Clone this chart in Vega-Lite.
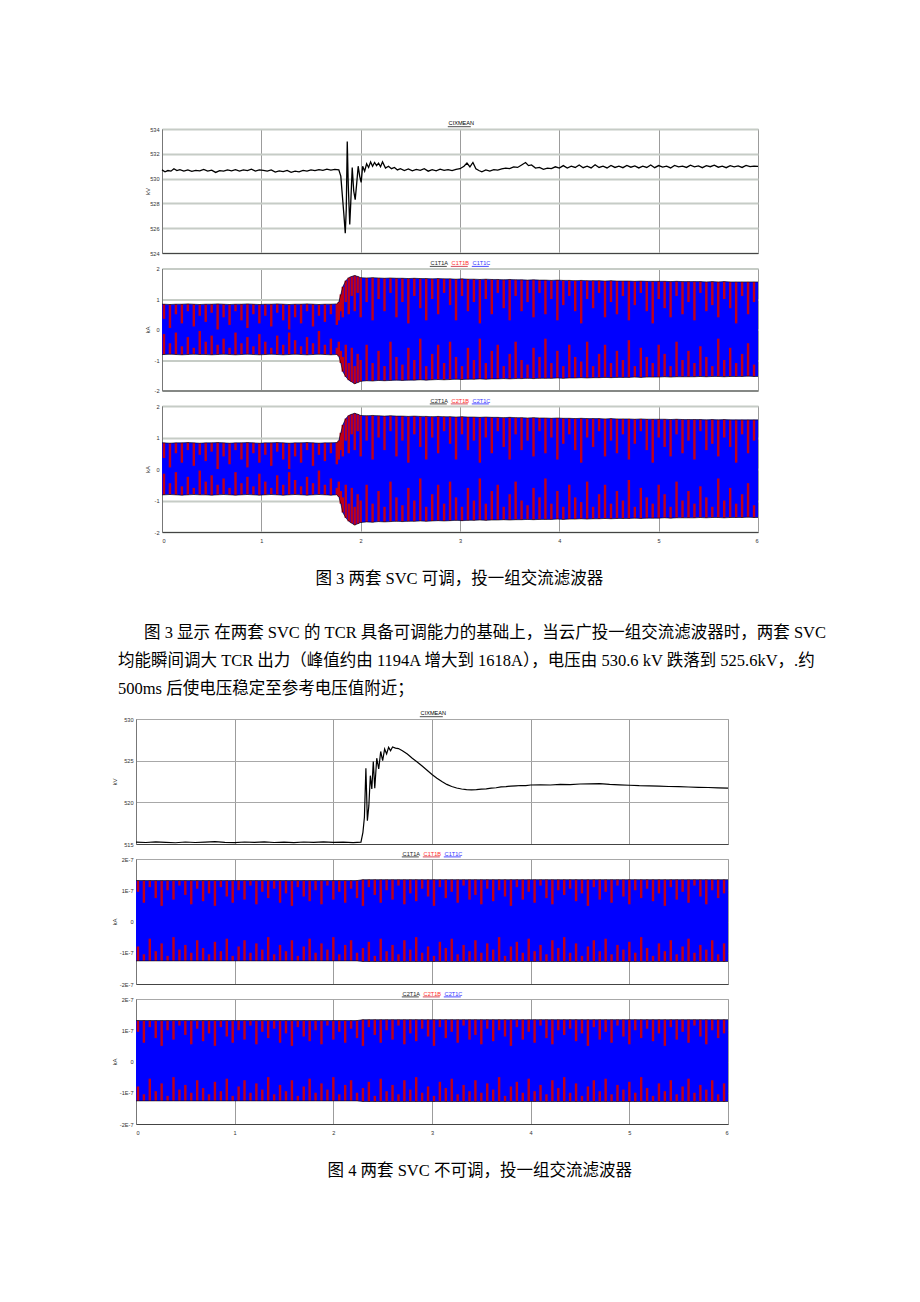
{
"$schema":"https://vega.github.io/schema/vega-lite/v6.json",
"background":"white",
"padding":{"left":103,"top":120,"right":10,"bottom":10},
"config":{
 "font":"Liberation Sans",
 "view":{"stroke":"#b4b4b4","strokeWidth":1},
 "axis":{"labelFont":"Liberation Sans","labelFontSize":5.6,"labelColor":"#333333","ticks":false,"titleFont":"Liberation Sans","titleFontSize":6,"titleFontWeight":"normal","titleColor":"#333333","domainColor":"#555555","labelPadding":3},
 "legend":{"labelFont":"Liberation Sans","labelFontSize":5.6,"symbolSize":4,"labelOffset":-3,"columnPadding":0,"padding":0,"direction":"horizontal","symbolStrokeWidth":0.7,"symbolFillColor":"transparent"},
 "title":{"font":"Liberation Serif, Noto Sans CJK SC","fontSize":16.5,"fontWeight":"normal","color":"#000000"}
},
"datasets":{
"v3":[{"t":0,"v":530.7},{"t":0.03,"v":530.55},{"t":0.06,"v":530.65},{"t":0.09,"v":530.6},{"t":0.12,"v":530.8},{"t":0.15,"v":530.65},{"t":0.18,"v":530.72},{"t":0.22,"v":530.6},{"t":0.26,"v":530.7},{"t":0.3,"v":530.58},{"t":0.34,"v":530.66},{"t":0.38,"v":530.62},{"t":0.42,"v":530.74},{"t":0.46,"v":530.6},{"t":0.5,"v":530.68},{"t":0.54,"v":530.5},{"t":0.58,"v":530.64},{"t":0.62,"v":530.6},{"t":0.66,"v":530.7},{"t":0.7,"v":530.62},{"t":0.74,"v":530.72},{"t":0.78,"v":530.6},{"t":0.82,"v":530.7},{"t":0.86,"v":530.64},{"t":0.9,"v":530.76},{"t":0.94,"v":530.6},{"t":0.98,"v":530.7},{"t":1.02,"v":530.66},{"t":1.06,"v":530.6},{"t":1.1,"v":530.7},{"t":1.14,"v":530.52},{"t":1.18,"v":530.62},{"t":1.22,"v":530.56},{"t":1.26,"v":530.66},{"t":1.3,"v":530.5},{"t":1.34,"v":530.6},{"t":1.38,"v":530.55},{"t":1.42,"v":530.66},{"t":1.46,"v":530.6},{"t":1.5,"v":530.7},{"t":1.54,"v":530.64},{"t":1.58,"v":530.72},{"t":1.62,"v":530.66},{"t":1.66,"v":530.76},{"t":1.7,"v":530.68},{"t":1.74,"v":530.74},{"t":1.78,"v":530.7},{"t":1.8,"v":530.2},{"t":1.815,"v":528.7},{"t":1.83,"v":527.2},{"t":1.845,"v":525.6},{"t":1.855,"v":527.5},{"t":1.865,"v":533.0},{"t":1.875,"v":529.5},{"t":1.89,"v":526.3},{"t":1.9,"v":528.0},{"t":1.915,"v":530.9},{"t":1.93,"v":529.0},{"t":1.945,"v":528.3},{"t":1.96,"v":529.6},{"t":1.975,"v":531.0},{"t":1.99,"v":530.2},{"t":2.005,"v":529.7},{"t":2.02,"v":531.0},{"t":2.04,"v":530.6},{"t":2.06,"v":531.2},{"t":2.08,"v":530.9},{"t":2.1,"v":531.35},{"t":2.12,"v":531.0},{"t":2.14,"v":531.3},{"t":2.16,"v":531.05},{"t":2.18,"v":531.25},{"t":2.2,"v":530.95},{"t":2.22,"v":531.35},{"t":2.25,"v":530.85},{"t":2.28,"v":531.0},{"t":2.31,"v":530.8},{"t":2.34,"v":530.9},{"t":2.37,"v":530.7},{"t":2.4,"v":530.8},{"t":2.44,"v":530.65},{"t":2.48,"v":530.78},{"t":2.52,"v":530.62},{"t":2.56,"v":530.74},{"t":2.6,"v":530.66},{"t":2.64,"v":530.8},{"t":2.68,"v":530.6},{"t":2.72,"v":530.72},{"t":2.76,"v":530.62},{"t":2.8,"v":530.76},{"t":2.84,"v":530.66},{"t":2.88,"v":530.72},{"t":2.92,"v":530.64},{"t":2.96,"v":530.75},{"t":3.0,"v":530.8},{"t":3.04,"v":531.0},{"t":3.07,"v":531.25},{"t":3.1,"v":530.95},{"t":3.13,"v":531.3},{"t":3.16,"v":530.8},{"t":3.19,"v":530.65},{"t":3.22,"v":530.55},{"t":3.26,"v":530.7},{"t":3.3,"v":530.6},{"t":3.34,"v":530.72},{"t":3.38,"v":530.68},{"t":3.42,"v":530.78},{"t":3.46,"v":530.85},{"t":3.5,"v":530.8},{"t":3.54,"v":530.95},{"t":3.58,"v":530.9},{"t":3.62,"v":531.1},{"t":3.66,"v":531.3},{"t":3.69,"v":531.05},{"t":3.72,"v":531.1},{"t":3.76,"v":530.85},{"t":3.8,"v":530.9},{"t":3.84,"v":530.75},{"t":3.88,"v":530.85},{"t":3.92,"v":530.8},{"t":3.96,"v":530.95},{"t":4.0,"v":530.85},{"t":4.04,"v":531.05},{"t":4.08,"v":530.85},{"t":4.12,"v":531.0},{"t":4.16,"v":530.9},{"t":4.2,"v":531.1},{"t":4.24,"v":530.88},{"t":4.28,"v":531.0},{"t":4.32,"v":530.86},{"t":4.36,"v":531.12},{"t":4.4,"v":530.9},{"t":4.44,"v":531.0},{"t":4.48,"v":530.86},{"t":4.52,"v":531.06},{"t":4.56,"v":530.9},{"t":4.6,"v":531.0},{"t":4.64,"v":530.88},{"t":4.68,"v":531.06},{"t":4.72,"v":530.92},{"t":4.76,"v":531.02},{"t":4.8,"v":530.86},{"t":4.84,"v":531.0},{"t":4.88,"v":530.9},{"t":4.92,"v":531.1},{"t":4.96,"v":530.88},{"t":5.0,"v":531.05},{"t":5.04,"v":530.92},{"t":5.08,"v":531.0},{"t":5.12,"v":530.86},{"t":5.16,"v":531.06},{"t":5.2,"v":530.94},{"t":5.24,"v":531.0},{"t":5.28,"v":530.9},{"t":5.32,"v":531.08},{"t":5.36,"v":530.95},{"t":5.4,"v":531.02},{"t":5.44,"v":530.88},{"t":5.48,"v":531.04},{"t":5.52,"v":530.96},{"t":5.56,"v":531.08},{"t":5.6,"v":530.92},{"t":5.64,"v":531.0},{"t":5.68,"v":530.88},{"t":5.72,"v":531.05},{"t":5.76,"v":530.95},{"t":5.8,"v":531.02},{"t":5.84,"v":530.9},{"t":5.88,"v":531.06},{"t":5.92,"v":530.96},{"t":5.96,"v":531.0},{"t":6.0,"v":530.98}],
"i3":[{"t":0,"hi":0.83,"lo":-0.82,"a":0.83,"b":-0.82},{"t":0.02,"hi":0.83,"lo":-0.82,"a":0.35,"b":-0.15},{"t":0.08,"hi":0.82,"lo":-0.81,"a":0.05,"b":-0.45},{"t":0.14,"hi":0.83,"lo":-0.82,"a":0.5,"b":-0.1},{"t":0.2,"hi":0.83,"lo":-0.83,"a":0.2,"b":-0.55},{"t":0.26,"hi":0.84,"lo":-0.82,"a":0.6,"b":-0.25},{"t":0.32,"hi":0.83,"lo":-0.81,"a":0.1,"b":-0.6},{"t":0.38,"hi":0.82,"lo":-0.82,"a":0.45,"b":-0.05},{"t":0.44,"hi":0.83,"lo":-0.82,"a":0.25,"b":-0.4},{"t":0.5,"hi":0.83,"lo":-0.83,"a":0.55,"b":-0.2},{"t":0.56,"hi":0.84,"lo":-0.82,"a":0.0,"b":-0.5},{"t":0.62,"hi":0.83,"lo":-0.81,"a":0.4,"b":-0.3},{"t":0.68,"hi":0.82,"lo":-0.82,"a":0.15,"b":-0.6},{"t":0.74,"hi":0.83,"lo":-0.83,"a":0.6,"b":-0.1},{"t":0.8,"hi":0.83,"lo":-0.82,"a":0.3,"b":-0.45},{"t":0.86,"hi":0.84,"lo":-0.81,"a":0.05,"b":-0.25},{"t":0.92,"hi":0.83,"lo":-0.82,"a":0.5,"b":-0.55},{"t":0.98,"hi":0.82,"lo":-0.83,"a":0.2,"b":-0.15},{"t":1.04,"hi":0.83,"lo":-0.82,"a":0.45,"b":-0.4},{"t":1.1,"hi":0.83,"lo":-0.81,"a":0.1,"b":-0.6},{"t":1.16,"hi":0.84,"lo":-0.82,"a":0.55,"b":-0.2},{"t":1.22,"hi":0.83,"lo":-0.83,"a":0.3,"b":-0.5},{"t":1.28,"hi":0.82,"lo":-0.82,"a":0.0,"b":-0.1},{"t":1.34,"hi":0.83,"lo":-0.81,"a":0.4,"b":-0.35},{"t":1.4,"hi":0.83,"lo":-0.82,"a":0.2,"b":-0.55},{"t":1.46,"hi":0.84,"lo":-0.83,"a":0.6,"b":-0.25},{"t":1.52,"hi":0.83,"lo":-0.82,"a":0.1,"b":-0.45},{"t":1.58,"hi":0.82,"lo":-0.81,"a":0.45,"b":-0.05},{"t":1.64,"hi":0.83,"lo":-0.82,"a":0.25,"b":-0.5},{"t":1.7,"hi":0.83,"lo":-0.83,"a":0.5,"b":-0.3},{"t":1.76,"hi":0.84,"lo":-0.82,"a":0.15,"b":-0.6},{"t":1.78,"hi":0.9,"lo":-0.88,"a":0.3,"b":-0.4},{"t":1.8,"hi":1.15,"lo":-1.1,"a":0.6,"b":-0.7},{"t":1.82,"hi":1.4,"lo":-1.38,"a":0.4,"b":-0.9},{"t":1.85,"hi":1.6,"lo":-1.55,"a":0.9,"b":-0.5},{"t":1.88,"hi":1.7,"lo":-1.66,"a":0.5,"b":-1.1},{"t":1.91,"hi":1.74,"lo":-1.72,"a":1.1,"b":-0.6},{"t":1.94,"hi":1.77,"lo":-1.78,"a":0.6,"b":-1.2},{"t":1.97,"hi":1.74,"lo":-1.74,"a":1.2,"b":-0.8},{"t":2.0,"hi":1.7,"lo":-1.7,"a":0.4,"b":-1.0},{"t":2.06,"hi":1.69,"lo":-1.68,"a":0.9,"b":-0.5},{"t":2.12,"hi":1.7,"lo":-1.69,"a":0.3,"b":-1.1},{"t":2.18,"hi":1.69,"lo":-1.67,"a":1.0,"b":-0.7},{"t":2.24,"hi":1.68,"lo":-1.68,"a":0.6,"b":-1.2},{"t":2.3,"hi":1.69,"lo":-1.67,"a":1.2,"b":-0.4},{"t":2.36,"hi":1.68,"lo":-1.66,"a":0.4,"b":-0.9},{"t":2.42,"hi":1.68,"lo":-1.67,"a":0.9,"b":-1.15},{"t":2.48,"hi":1.67,"lo":-1.66,"a":0.2,"b":-0.6},{"t":2.54,"hi":1.68,"lo":-1.66,"a":1.1,"b":-1.0},{"t":2.6,"hi":1.67,"lo":-1.65,"a":0.7,"b":-0.3},{"t":2.66,"hi":1.67,"lo":-1.66,"a":0.3,"b":-1.2},{"t":2.72,"hi":1.66,"lo":-1.65,"a":1.0,"b":-0.8},{"t":2.78,"hi":1.67,"lo":-1.64,"a":0.5,"b":-0.5},{"t":2.84,"hi":1.66,"lo":-1.65,"a":1.2,"b":-1.1},{"t":2.9,"hi":1.66,"lo":-1.64,"a":0.8,"b":-0.4},{"t":2.96,"hi":1.65,"lo":-1.63,"a":0.3,"b":-0.9},{"t":3.02,"hi":1.66,"lo":-1.64,"a":1.1,"b":-1.2},{"t":3.08,"hi":1.65,"lo":-1.63,"a":0.6,"b":-0.6},{"t":3.14,"hi":1.65,"lo":-1.63,"a":0.9,"b":-1.0},{"t":3.2,"hi":1.64,"lo":-1.62,"a":0.2,"b":-0.3},{"t":3.26,"hi":1.65,"lo":-1.63,"a":1.0,"b":-1.1},{"t":3.32,"hi":1.64,"lo":-1.62,"a":0.5,"b":-0.7},{"t":3.38,"hi":1.64,"lo":-1.62,"a":1.2,"b":-0.5},{"t":3.44,"hi":1.63,"lo":-1.61,"a":0.7,"b":-1.2},{"t":3.5,"hi":1.64,"lo":-1.62,"a":0.3,"b":-0.8},{"t":3.56,"hi":1.63,"lo":-1.61,"a":1.1,"b":-0.4},{"t":3.62,"hi":1.63,"lo":-1.61,"a":0.6,"b":-1.0},{"t":3.68,"hi":1.62,"lo":-1.6,"a":0.9,"b":-1.15},{"t":3.74,"hi":1.63,"lo":-1.61,"a":0.4,"b":-0.6},{"t":3.8,"hi":1.62,"lo":-1.6,"a":1.2,"b":-0.9},{"t":3.86,"hi":1.62,"lo":-1.6,"a":0.5,"b":-0.3},{"t":3.92,"hi":1.61,"lo":-1.6,"a":1.0,"b":-1.1},{"t":3.98,"hi":1.62,"lo":-1.59,"a":0.3,"b":-0.7},{"t":4.04,"hi":1.61,"lo":-1.6,"a":0.8,"b":-1.2},{"t":4.1,"hi":1.61,"lo":-1.59,"a":1.1,"b":-0.5},{"t":4.16,"hi":1.6,"lo":-1.59,"a":0.6,"b":-0.9},{"t":4.22,"hi":1.61,"lo":-1.58,"a":0.2,"b":-1.05},{"t":4.28,"hi":1.6,"lo":-1.59,"a":1.0,"b":-0.4},{"t":4.34,"hi":1.6,"lo":-1.58,"a":0.7,"b":-1.2},{"t":4.4,"hi":1.6,"lo":-1.58,"a":1.2,"b":-0.8},{"t":4.46,"hi":1.59,"lo":-1.57,"a":0.4,"b":-0.5},{"t":4.52,"hi":1.6,"lo":-1.58,"a":0.9,"b":-1.1},{"t":4.58,"hi":1.59,"lo":-1.57,"a":0.5,"b":-0.7},{"t":4.64,"hi":1.59,"lo":-1.57,"a":1.1,"b":-1.0},{"t":4.7,"hi":1.59,"lo":-1.57,"a":0.3,"b":-0.35},{"t":4.76,"hi":1.58,"lo":-1.56,"a":0.8,"b":-1.2},{"t":4.82,"hi":1.59,"lo":-1.57,"a":1.2,"b":-0.6},{"t":4.88,"hi":1.58,"lo":-1.56,"a":0.6,"b":-0.9},{"t":4.94,"hi":1.58,"lo":-1.56,"a":0.2,"b":-1.1},{"t":5.0,"hi":1.58,"lo":-1.56,"a":1.0,"b":-0.5},{"t":5.06,"hi":1.58,"lo":-1.55,"a":0.7,"b":-0.8},{"t":5.12,"hi":1.57,"lo":-1.56,"a":0.4,"b":-1.2},{"t":5.18,"hi":1.58,"lo":-1.55,"a":1.1,"b":-0.4},{"t":5.24,"hi":1.57,"lo":-1.55,"a":0.5,"b":-1.0},{"t":5.3,"hi":1.57,"lo":-1.55,"a":0.9,"b":-0.7},{"t":5.36,"hi":1.57,"lo":-1.55,"a":0.3,"b":-1.1},{"t":5.42,"hi":1.57,"lo":-1.54,"a":1.2,"b":-0.55},{"t":5.48,"hi":1.56,"lo":-1.55,"a":0.6,"b":-0.9},{"t":5.54,"hi":1.57,"lo":-1.54,"a":0.8,"b":-1.2},{"t":5.6,"hi":1.56,"lo":-1.54,"a":0.4,"b":-0.3},{"t":5.66,"hi":1.57,"lo":-1.55,"a":1.0,"b":-1.0},{"t":5.72,"hi":1.56,"lo":-1.54,"a":0.7,"b":-0.6},{"t":5.78,"hi":1.56,"lo":-1.54,"a":0.2,"b":-1.1},{"t":5.84,"hi":1.56,"lo":-1.54,"a":1.1,"b":-0.8},{"t":5.9,"hi":1.56,"lo":-1.53,"a":0.5,"b":-0.45},{"t":5.96,"hi":1.56,"lo":-1.54,"a":0.9,"b":-1.15},{"t":6.0,"hi":1.56,"lo":-1.54,"a":1.56,"b":-1.54}],
"v4":[{"t":0,"v":515.22},{"t":0.1,"v":515.18},{"t":0.2,"v":515.26},{"t":0.3,"v":515.2},{"t":0.4,"v":515.15},{"t":0.5,"v":515.24},{"t":0.6,"v":515.18},{"t":0.7,"v":515.22},{"t":0.8,"v":515.28},{"t":0.9,"v":515.2},{"t":1.0,"v":515.16},{"t":1.1,"v":515.24},{"t":1.2,"v":515.2},{"t":1.3,"v":515.26},{"t":1.4,"v":515.18},{"t":1.5,"v":515.22},{"t":1.6,"v":515.16},{"t":1.7,"v":515.24},{"t":1.8,"v":515.2},{"t":1.9,"v":515.26},{"t":2.0,"v":515.19},{"t":2.1,"v":515.23},{"t":2.2,"v":515.17},{"t":2.28,"v":515.22},{"t":2.3,"v":516.4},{"t":2.315,"v":518.2},{"t":2.33,"v":524.1},{"t":2.345,"v":517.8},{"t":2.36,"v":519.6},{"t":2.375,"v":523.2},{"t":2.39,"v":521.6},{"t":2.405,"v":524.9},{"t":2.42,"v":521.7},{"t":2.44,"v":525.3},{"t":2.46,"v":524.0},{"t":2.48,"v":526.1},{"t":2.5,"v":525.0},{"t":2.52,"v":526.4},{"t":2.54,"v":525.8},{"t":2.56,"v":526.6},{"t":2.58,"v":526.2},{"t":2.6,"v":526.65},{"t":2.63,"v":526.5},{"t":2.66,"v":526.45},{"t":2.7,"v":526.2},{"t":2.75,"v":525.8},{"t":2.8,"v":525.3},{"t":2.85,"v":524.85},{"t":2.9,"v":524.35},{"t":2.95,"v":523.85},{"t":3.0,"v":523.35},{"t":3.05,"v":522.9},{"t":3.1,"v":522.5},{"t":3.15,"v":522.15},{"t":3.2,"v":521.9},{"t":3.25,"v":521.72},{"t":3.3,"v":521.6},{"t":3.35,"v":521.52},{"t":3.4,"v":521.5},{"t":3.45,"v":521.52},{"t":3.5,"v":521.58},{"t":3.55,"v":521.62},{"t":3.6,"v":521.7},{"t":3.65,"v":521.75},{"t":3.7,"v":521.85},{"t":3.75,"v":521.88},{"t":3.8,"v":521.95},{"t":3.85,"v":521.98},{"t":3.9,"v":522.02},{"t":3.95,"v":522.0},{"t":4.0,"v":522.08},{"t":4.1,"v":522.1},{"t":4.2,"v":522.08},{"t":4.3,"v":522.15},{"t":4.4,"v":522.12},{"t":4.5,"v":522.2},{"t":4.6,"v":522.22},{"t":4.7,"v":522.25},{"t":4.8,"v":522.15},{"t":4.9,"v":522.1},{"t":5.0,"v":522.05},{"t":5.1,"v":522.0},{"t":5.2,"v":521.98},{"t":5.3,"v":521.95},{"t":5.4,"v":521.9},{"t":5.5,"v":521.88},{"t":5.6,"v":521.84},{"t":5.7,"v":521.8},{"t":5.8,"v":521.78},{"t":5.9,"v":521.74},{"t":6.0,"v":521.7}],
"i4":[{"t":0,"hi":1.31e-7,"lo":-1.26e-7,"a":1.31e-7,"b":-1.26e-7},{"t":0.02,"hi":1.31e-7,"lo":-1.26e-7,"a":9.5e-8,"b":-8e-8},{"t":0.08,"hi":1.31e-7,"lo":-1.26e-7,"a":6e-8,"b":-1.05e-7},{"t":0.14,"hi":1.31e-7,"lo":-1.26e-7,"a":1.1e-7,"b":-5.5e-8},{"t":0.2,"hi":1.31e-7,"lo":-1.26e-7,"a":7.5e-8,"b":-9.5e-8},{"t":0.26,"hi":1.31e-7,"lo":-1.26e-7,"a":5e-8,"b":-7e-8},{"t":0.32,"hi":1.31e-7,"lo":-1.26e-7,"a":1e-7,"b":-1.1e-7},{"t":0.38,"hi":1.31e-7,"lo":-1.26e-7,"a":7e-8,"b":-5e-8},{"t":0.44,"hi":1.31e-7,"lo":-1.26e-7,"a":1.15e-7,"b":-9e-8},{"t":0.5,"hi":1.31e-7,"lo":-1.26e-7,"a":8.5e-8,"b":-7.5e-8},{"t":0.56,"hi":1.31e-7,"lo":-1.26e-7,"a":5.5e-8,"b":-1e-7},{"t":0.62,"hi":1.31e-7,"lo":-1.26e-7,"a":1.05e-7,"b":-6e-8},{"t":0.68,"hi":1.31e-7,"lo":-1.26e-7,"a":6.5e-8,"b":-8.5e-8},{"t":0.74,"hi":1.31e-7,"lo":-1.26e-7,"a":9e-8,"b":-1.05e-7},{"t":0.8,"hi":1.31e-7,"lo":-1.26e-7,"a":5e-8,"b":-6.5e-8},{"t":0.86,"hi":1.31e-7,"lo":-1.26e-7,"a":1.1e-7,"b":-9.5e-8},{"t":0.92,"hi":1.31e-7,"lo":-1.26e-7,"a":8e-8,"b":-5.5e-8},{"t":0.98,"hi":1.31e-7,"lo":-1.26e-7,"a":6e-8,"b":-1.1e-7},{"t":1.04,"hi":1.31e-7,"lo":-1.26e-7,"a":1e-7,"b":-8e-8},{"t":1.1,"hi":1.31e-7,"lo":-1.26e-7,"a":7e-8,"b":-6e-8},{"t":1.16,"hi":1.31e-7,"lo":-1.26e-7,"a":1.15e-7,"b":-1e-7},{"t":1.22,"hi":1.31e-7,"lo":-1.26e-7,"a":5.5e-8,"b":-7e-8},{"t":1.28,"hi":1.31e-7,"lo":-1.26e-7,"a":9.5e-8,"b":-9e-8},{"t":1.34,"hi":1.31e-7,"lo":-1.26e-7,"a":7.5e-8,"b":-5e-8},{"t":1.4,"hi":1.31e-7,"lo":-1.26e-7,"a":1.05e-7,"b":-1.05e-7},{"t":1.46,"hi":1.31e-7,"lo":-1.26e-7,"a":6e-8,"b":-7.5e-8},{"t":1.52,"hi":1.31e-7,"lo":-1.26e-7,"a":9e-8,"b":-9.5e-8},{"t":1.58,"hi":1.31e-7,"lo":-1.26e-7,"a":5e-8,"b":-6e-8},{"t":1.64,"hi":1.31e-7,"lo":-1.26e-7,"a":1.1e-7,"b":-1.1e-7},{"t":1.7,"hi":1.31e-7,"lo":-1.26e-7,"a":8e-8,"b":-8e-8},{"t":1.76,"hi":1.31e-7,"lo":-1.26e-7,"a":6.5e-8,"b":-5.5e-8},{"t":1.82,"hi":1.31e-7,"lo":-1.26e-7,"a":1e-7,"b":-1e-7},{"t":1.88,"hi":1.31e-7,"lo":-1.26e-7,"a":5.5e-8,"b":-7e-8},{"t":1.94,"hi":1.31e-7,"lo":-1.26e-7,"a":1.15e-7,"b":-9e-8},{"t":2.0,"hi":1.31e-7,"lo":-1.26e-7,"a":7e-8,"b":-5e-8},{"t":2.06,"hi":1.31e-7,"lo":-1.26e-7,"a":9.5e-8,"b":-1.05e-7},{"t":2.12,"hi":1.31e-7,"lo":-1.26e-7,"a":6e-8,"b":-7.5e-8},{"t":2.18,"hi":1.31e-7,"lo":-1.26e-7,"a":1.05e-7,"b":-6e-8},{"t":2.24,"hi":1.31e-7,"lo":-1.26e-7,"a":7.5e-8,"b":-1e-7},{"t":2.3,"hi":1.34e-7,"lo":-1.28e-7,"a":5e-8,"b":-8.5e-8},{"t":2.36,"hi":1.34e-7,"lo":-1.28e-7,"a":1.1e-7,"b":-6.5e-8},{"t":2.42,"hi":1.34e-7,"lo":-1.28e-7,"a":8.5e-8,"b":-1.1e-7},{"t":2.48,"hi":1.34e-7,"lo":-1.28e-7,"a":6e-8,"b":-5.5e-8},{"t":2.54,"hi":1.34e-7,"lo":-1.28e-7,"a":1e-7,"b":-9.5e-8},{"t":2.6,"hi":1.34e-7,"lo":-1.28e-7,"a":7e-8,"b":-7.5e-8},{"t":2.66,"hi":1.34e-7,"lo":-1.28e-7,"a":1.15e-7,"b":-1.05e-7},{"t":2.72,"hi":1.34e-7,"lo":-1.28e-7,"a":5.5e-8,"b":-6e-8},{"t":2.78,"hi":1.34e-7,"lo":-1.28e-7,"a":9e-8,"b":-9e-8},{"t":2.84,"hi":1.34e-7,"lo":-1.28e-7,"a":6.5e-8,"b":-5e-8},{"t":2.9,"hi":1.34e-7,"lo":-1.28e-7,"a":1.05e-7,"b":-1e-7},{"t":2.96,"hi":1.34e-7,"lo":-1.28e-7,"a":8e-8,"b":-8e-8},{"t":3.02,"hi":1.34e-7,"lo":-1.28e-7,"a":5e-8,"b":-1.1e-7},{"t":3.08,"hi":1.34e-7,"lo":-1.28e-7,"a":1.1e-7,"b":-6.5e-8},{"t":3.14,"hi":1.34e-7,"lo":-1.28e-7,"a":7.5e-8,"b":-8.5e-8},{"t":3.2,"hi":1.34e-7,"lo":-1.28e-7,"a":9.5e-8,"b":-5.5e-8},{"t":3.26,"hi":1.34e-7,"lo":-1.28e-7,"a":6e-8,"b":-1.05e-7},{"t":3.32,"hi":1.34e-7,"lo":-1.28e-7,"a":1.15e-7,"b":-7.5e-8},{"t":3.38,"hi":1.34e-7,"lo":-1.28e-7,"a":7e-8,"b":-9.5e-8},{"t":3.44,"hi":1.34e-7,"lo":-1.28e-7,"a":8.5e-8,"b":-6e-8},{"t":3.5,"hi":1.34e-7,"lo":-1.28e-7,"a":5.5e-8,"b":-1e-7},{"t":3.56,"hi":1.34e-7,"lo":-1.28e-7,"a":1.05e-7,"b":-7e-8},{"t":3.62,"hi":1.34e-7,"lo":-1.28e-7,"a":6.5e-8,"b":-9e-8},{"t":3.68,"hi":1.34e-7,"lo":-1.28e-7,"a":1e-7,"b":-5e-8},{"t":3.74,"hi":1.34e-7,"lo":-1.28e-7,"a":8e-8,"b":-1.1e-7},{"t":3.8,"hi":1.34e-7,"lo":-1.28e-7,"a":5e-8,"b":-8e-8},{"t":3.86,"hi":1.34e-7,"lo":-1.28e-7,"a":1.1e-7,"b":-6.5e-8},{"t":3.92,"hi":1.34e-7,"lo":-1.28e-7,"a":7e-8,"b":-1e-7},{"t":3.98,"hi":1.34e-7,"lo":-1.28e-7,"a":9.5e-8,"b":-5.5e-8},{"t":4.04,"hi":1.34e-7,"lo":-1.28e-7,"a":6e-8,"b":-9.5e-8},{"t":4.1,"hi":1.34e-7,"lo":-1.28e-7,"a":1.15e-7,"b":-7.5e-8},{"t":4.16,"hi":1.34e-7,"lo":-1.28e-7,"a":7.5e-8,"b":-1.05e-7},{"t":4.22,"hi":1.34e-7,"lo":-1.28e-7,"a":5.5e-8,"b":-6e-8},{"t":4.28,"hi":1.34e-7,"lo":-1.28e-7,"a":1e-7,"b":-8.5e-8},{"t":4.34,"hi":1.34e-7,"lo":-1.28e-7,"a":8.5e-8,"b":-5e-8},{"t":4.4,"hi":1.34e-7,"lo":-1.28e-7,"a":1.05e-7,"b":-1e-7},{"t":4.46,"hi":1.34e-7,"lo":-1.28e-7,"a":6.5e-8,"b":-7e-8},{"t":4.52,"hi":1.34e-7,"lo":-1.28e-7,"a":9e-8,"b":-1.1e-7},{"t":4.58,"hi":1.34e-7,"lo":-1.28e-7,"a":5e-8,"b":-8e-8},{"t":4.64,"hi":1.34e-7,"lo":-1.28e-7,"a":1.1e-7,"b":-6e-8},{"t":4.7,"hi":1.34e-7,"lo":-1.28e-7,"a":7e-8,"b":-9.5e-8},{"t":4.76,"hi":1.34e-7,"lo":-1.28e-7,"a":9.5e-8,"b":-5.5e-8},{"t":4.82,"hi":1.34e-7,"lo":-1.28e-7,"a":6e-8,"b":-1.05e-7},{"t":4.88,"hi":1.34e-7,"lo":-1.28e-7,"a":1.15e-7,"b":-7.5e-8},{"t":4.94,"hi":1.34e-7,"lo":-1.28e-7,"a":8e-8,"b":-9e-8},{"t":5.0,"hi":1.34e-7,"lo":-1.28e-7,"a":5.5e-8,"b":-6.5e-8},{"t":5.06,"hi":1.34e-7,"lo":-1.28e-7,"a":1e-7,"b":-1e-7},{"t":5.12,"hi":1.34e-7,"lo":-1.28e-7,"a":7.5e-8,"b":-5e-8},{"t":5.18,"hi":1.34e-7,"lo":-1.28e-7,"a":1.05e-7,"b":-8.5e-8},{"t":5.24,"hi":1.34e-7,"lo":-1.28e-7,"a":6.5e-8,"b":-1.1e-7},{"t":5.3,"hi":1.34e-7,"lo":-1.28e-7,"a":9e-8,"b":-7e-8},{"t":5.36,"hi":1.34e-7,"lo":-1.28e-7,"a":5e-8,"b":-9.5e-8},{"t":5.42,"hi":1.34e-7,"lo":-1.28e-7,"a":1.1e-7,"b":-6e-8},{"t":5.48,"hi":1.34e-7,"lo":-1.28e-7,"a":7e-8,"b":-1.05e-7},{"t":5.54,"hi":1.34e-7,"lo":-1.28e-7,"a":9.5e-8,"b":-8e-8},{"t":5.6,"hi":1.34e-7,"lo":-1.28e-7,"a":6e-8,"b":-5.5e-8},{"t":5.66,"hi":1.34e-7,"lo":-1.28e-7,"a":1.15e-7,"b":-1e-7},{"t":5.72,"hi":1.34e-7,"lo":-1.28e-7,"a":8e-8,"b":-7.5e-8},{"t":5.78,"hi":1.34e-7,"lo":-1.28e-7,"a":5.5e-8,"b":-9e-8},{"t":5.84,"hi":1.34e-7,"lo":-1.28e-7,"a":1e-7,"b":-6e-8},{"t":5.9,"hi":1.34e-7,"lo":-1.28e-7,"a":7.5e-8,"b":-1.05e-7},{"t":5.96,"hi":1.34e-7,"lo":-1.28e-7,"a":9e-8,"b":-7e-8},{"t":6.0,"hi":1.34e-7,"lo":-1.28e-7,"a":1.34e-7,"b":-1.28e-7}]
},
"spacing":0,
"resolve":{"scale":{"x":"independent","y":"independent","color":"independent"},"legend":{"color":"independent"}},
"vconcat":[
 {"spacing":0,
  "resolve":{"scale":{"x":"independent","y":"independent","color":"independent"},"legend":{"color":"independent"}},
  "hconcat":[
  {"width":37,"height":1,"data":{"values":[{"t":0}]},"mark":{"type":"point","opacity":0},"encoding":{},"view":{"stroke":null}},
  {"spacing":1.5,
   "title":{"text":"图 3  两套 SVC 可调，投一组交流滤波器","orient":"bottom","anchor":"middle","offset":26,"dx":7},
   "resolve":{"scale":{"x":"independent","y":"independent","color":"independent"},"legend":{"color":"independent"}},
   "vconcat":[
    {"width":596,"height":124,"data":{"name":"v3"},
     "mark":{"type":"line","strokeWidth":1.3},
     "encoding":{
      "x":{"field":"t","type":"quantitative","scale":{"domain":[0,6],"nice":false},"axis":{"values":[0,1,2,3,4,5,6],"grid":true,"labels":false,"title":null,"gridColor":"#9c9c9c","gridWidth":1,"domainColor":"#444444"}},
      "y":{"field":"v","type":"quantitative","scale":{"domain":[524,534],"nice":false,"zero":false},"axis":{"values":[524,526,528,530,532,534],"title":"kV","titlePadding":0,"minExtent":12,"maxExtent":12,"gridColor":"#c6ccc6","gridWidth":2,"domainColor":"#777777"}},
      "color":{"datum":"CIXMEAN","scale":{"domain":["CIXMEAN"],"range":["#000000"]},
        "legend":{"orient":"none","legendX":284,"legendY":-8.5,"title":null,"symbolType":"M-1,3.4H22","labelColor":"#000000","symbolStrokeColor":"#000000"}}
     }},
    {"width":596,"height":122,"data":{"name":"i3"},
     "encoding":{"x":{"field":"t","type":"quantitative","scale":{"domain":[0,6],"nice":false},"axis":{"values":[0,1,2,3,4,5,6],"grid":true,"labels":false,"title":null,"gridColor":"#9c9c9c","gridWidth":1,"domainColor":"#444444"}}},
     "layer":[
      {"mark":{"type":"area"},"encoding":{
        "y":{"field":"hi","type":"quantitative","scale":{"domain":[-2,2],"nice":false},"axis":{"values":[-2,-1,0,1,2],"title":"kA","labelExpr":"'' + datum.value","titlePadding":0,"minExtent":12,"maxExtent":12,"gridColor":"#c6ccc6","gridWidth":2,"domainColor":"#777777"}},
        "y2":{"field":"lo"},
        "color":{"datum":"C1T1C","scale":{"domain":["C1T1A","C1T1B","C1T1C"],"range":["#000000","#c00018","#0000ff"]},
          "legend":{"orient":"none","legendX":266,"legendY":-8.5,"title":null,"symbolType":"M-1,3.4H16","labelColor":{"expr":"slice(datum.value,-1)=='B'?'#ff2b2b':slice(datum.value,-1)=='C'?'#3333ff':'#222222'"}}}}},
      {"mark":{"type":"rule","strokeWidth":2.4},"encoding":{"y":{"field":"hi","type":"quantitative","axis":{"values":[-2,-1,0,1,2],"title":"kA","labelExpr":"'' + datum.value","titlePadding":0,"minExtent":12,"maxExtent":12,"gridColor":"#c6ccc6","gridWidth":2,"domainColor":"#777777"}},"y2":{"field":"a"},"color":{"datum":"C1T1B"}}},
      {"mark":{"type":"rule","strokeWidth":2.4},"encoding":{"y":{"field":"lo","type":"quantitative","axis":{"values":[-2,-1,0,1,2],"title":"kA","labelExpr":"'' + datum.value","titlePadding":0,"minExtent":12,"maxExtent":12,"gridColor":"#c6ccc6","gridWidth":2,"domainColor":"#777777"}},"y2":{"field":"b"},"color":{"datum":"C1T1B"}}},
      {"mark":{"type":"line","strokeWidth":0.6},"encoding":{"y":{"field":"hi","type":"quantitative","axis":{"values":[-2,-1,0,1,2],"title":"kA","labelExpr":"'' + datum.value","titlePadding":0,"minExtent":12,"maxExtent":12,"gridColor":"#c6ccc6","gridWidth":2,"domainColor":"#777777"}},"color":{"datum":"C1T1A"}}},
      {"mark":{"type":"line","strokeWidth":0.6},"encoding":{"y":{"field":"lo","type":"quantitative","axis":{"values":[-2,-1,0,1,2],"title":"kA","labelExpr":"'' + datum.value","titlePadding":0,"minExtent":12,"maxExtent":12,"gridColor":"#c6ccc6","gridWidth":2,"domainColor":"#777777"}},"color":{"datum":"C1T1A"}}}
     ]},
    {"width":596,"height":126,"data":{"name":"i3"},
     "encoding":{"x":{"field":"t","type":"quantitative","scale":{"domain":[0,6],"nice":false},"axis":{"values":[0,1,2,3,4,5,6],"grid":true,"labels":true,"labelPadding":6.5,"title":null,"gridColor":"#9c9c9c","gridWidth":1,"domainColor":"#444444"}}},
     "layer":[
      {"mark":{"type":"area"},"encoding":{
        "y":{"field":"hi","type":"quantitative","scale":{"domain":[-2,2],"nice":false},"axis":{"values":[-2,-1,0,1,2],"title":"kA","labelExpr":"'' + datum.value","titlePadding":0,"minExtent":12,"maxExtent":12,"gridColor":"#c6ccc6","gridWidth":2,"domainColor":"#777777"}},
        "y2":{"field":"lo"},
        "color":{"datum":"C2T1C","scale":{"domain":["C2T1A","C2T1B","C2T1C"],"range":["#000000","#c00018","#0000ff"]},
          "legend":{"orient":"none","legendX":266,"legendY":-8.5,"title":null,"symbolType":"M-1,3.4H16","labelColor":{"expr":"slice(datum.value,-1)=='B'?'#ff2b2b':slice(datum.value,-1)=='C'?'#3333ff':'#222222'"}}}}},
      {"mark":{"type":"rule","strokeWidth":2.4},"encoding":{"y":{"field":"hi","type":"quantitative","axis":{"values":[-2,-1,0,1,2],"title":"kA","labelExpr":"'' + datum.value","titlePadding":0,"minExtent":12,"maxExtent":12,"gridColor":"#c6ccc6","gridWidth":2,"domainColor":"#777777"}},"y2":{"field":"a"},"color":{"datum":"C2T1B"}}},
      {"mark":{"type":"rule","strokeWidth":2.4},"encoding":{"y":{"field":"lo","type":"quantitative","axis":{"values":[-2,-1,0,1,2],"title":"kA","labelExpr":"'' + datum.value","titlePadding":0,"minExtent":12,"maxExtent":12,"gridColor":"#c6ccc6","gridWidth":2,"domainColor":"#777777"}},"y2":{"field":"b"},"color":{"datum":"C2T1B"}}},
      {"mark":{"type":"line","strokeWidth":0.6},"encoding":{"y":{"field":"hi","type":"quantitative","axis":{"values":[-2,-1,0,1,2],"title":"kA","labelExpr":"'' + datum.value","titlePadding":0,"minExtent":12,"maxExtent":12,"gridColor":"#c6ccc6","gridWidth":2,"domainColor":"#777777"}},"color":{"datum":"C2T1A"}}},
      {"mark":{"type":"line","strokeWidth":0.6},"encoding":{"y":{"field":"lo","type":"quantitative","axis":{"values":[-2,-1,0,1,2],"title":"kA","labelExpr":"'' + datum.value","titlePadding":0,"minExtent":12,"maxExtent":12,"gridColor":"#c6ccc6","gridWidth":2,"domainColor":"#777777"}},"color":{"datum":"C2T1A"}}}
     ]}
   ]}
 ]},
 {"width":720,"height":121.5,
  "data":{"values":[
   {"line":1,"text":"图 3 显示 在两套 SVC 的 TCR 具备可调能力的基础上，当云广投一组交流滤波器时，两套 SVC"},
   {"line":2,"text":"均能瞬间调大 TCR 出力（峰值约由 1194A 增大到 1618A），电压由 530.6 kV 跌落到 525.6kV，.约"},
   {"line":3,"text":"500ms 后使电压稳定至参考电压值附近；"}]},
  "encoding":{
   "x":{"datum":0,"type":"quantitative","scale":{"domain":[0,1]},"axis":null},
   "y":{"field":"line","type":"quantitative","scale":{"domain":[-0.6175,3.7215],"reverse":true,"nice":false,"zero":false},"axis":null},
   "text":{"field":"text"}},
  "layer":[
   {"transform":[{"filter":"datum.line == 1"}],
    "mark":{"type":"text","align":"left","baseline":"middle","dx":38,"font":"Liberation Serif, Noto Sans CJK SC","fontSize":16.5,"color":"#000000"}},
   {"transform":[{"filter":"datum.line > 1"}],
    "mark":{"type":"text","align":"left","baseline":"middle","dx":12,"font":"Liberation Serif, Noto Sans CJK SC","fontSize":16.5,"color":"#000000"}}
  ],
  "view":{"stroke":null}},
 {"spacing":0,
  "resolve":{"scale":{"x":"independent","y":"independent","color":"independent"},"legend":{"color":"independent"}},
  "hconcat":[
  {"width":1,"height":1,"data":{"values":[{"t":0}]},"mark":{"type":"point","opacity":0},"encoding":{},"view":{"stroke":null}},
  {"spacing":1,
   "title":{"text":"图 4 两套 SVC 不可调，投一组交流滤波器","orient":"bottom","anchor":"middle","offset":26,"dx":59},
   "resolve":{"scale":{"x":"independent","y":"independent","color":"independent"},"legend":{"color":"independent"}},
   "vconcat":[
    {"width":592,"height":125,"data":{"name":"v4"},
     "mark":{"type":"line","strokeWidth":1.2},
     "encoding":{
      "x":{"field":"t","type":"quantitative","scale":{"domain":[0,6],"nice":false},"axis":{"values":[0,1,2,3,4,5,6],"grid":true,"labels":false,"title":null,"gridColor":"#9c9c9c","gridWidth":1,"domainColor":"#444444"}},
      "y":{"field":"v","type":"quantitative","scale":{"domain":[515,530],"nice":false,"zero":false},"axis":{"values":[515,520,525,530],"title":"kV","titlePadding":0,"minExtent":19,"maxExtent":19,"gridColor":"#a8a8a8","gridWidth":1,"domainColor":"#777777"}},
      "color":{"datum":"CIXMEAN","scale":{"domain":["CIXMEAN"],"range":["#000000"]},
        "legend":{"orient":"none","legendX":282,"legendY":-8.5,"title":null,"symbolType":"M-1,3.4H22","labelColor":"#000000","symbolStrokeColor":"#000000"}}
     }},
    {"width":592,"height":125,"data":{"name":"i4"},
     "encoding":{"x":{"field":"t","type":"quantitative","scale":{"domain":[0,6],"nice":false},"axis":{"values":[0,1,2,3,4,5,6],"grid":true,"labels":false,"title":null,"gridColor":"#9c9c9c","gridWidth":1,"domainColor":"#444444"}}},
     "layer":[
      {"mark":{"type":"area"},"encoding":{
        "y":{"field":"hi","type":"quantitative","scale":{"domain":[-2e-7,2e-7],"nice":false},"axis":{"values":[-2e-7,-1e-7,0,1e-7,2e-7],"title":"kA","labelExpr":"datum.value == 0 ? '0' : round(datum.value*1e7) + 'E-7'","titlePadding":0,"minExtent":19,"maxExtent":19,"gridColor":"#a8a8a8","gridWidth":1,"domainColor":"#777777"}},
        "y2":{"field":"lo"},
        "color":{"datum":"C1T1C","scale":{"domain":["C1T1A","C1T1B","C1T1C"],"range":["#000000","#c00018","#0000ff"]},
          "legend":{"orient":"none","legendX":264,"legendY":-8.5,"title":null,"symbolType":"M-1,3.4H16","labelColor":{"expr":"slice(datum.value,-1)=='B'?'#ff2b2b':slice(datum.value,-1)=='C'?'#3333ff':'#222222'"}}}}},
      {"mark":{"type":"rule","strokeWidth":2.4},"encoding":{"y":{"field":"hi","type":"quantitative","axis":{"values":[-2e-7,-1e-7,0,1e-7,2e-7],"title":"kA","labelExpr":"datum.value == 0 ? '0' : round(datum.value*1e7) + 'E-7'","titlePadding":0,"minExtent":19,"maxExtent":19,"gridColor":"#a8a8a8","gridWidth":1,"domainColor":"#777777"}},"y2":{"field":"a"},"color":{"datum":"C1T1B"}}},
      {"mark":{"type":"rule","strokeWidth":2.4},"encoding":{"y":{"field":"lo","type":"quantitative","axis":{"values":[-2e-7,-1e-7,0,1e-7,2e-7],"title":"kA","labelExpr":"datum.value == 0 ? '0' : round(datum.value*1e7) + 'E-7'","titlePadding":0,"minExtent":19,"maxExtent":19,"gridColor":"#a8a8a8","gridWidth":1,"domainColor":"#777777"}},"y2":{"field":"b"},"color":{"datum":"C1T1B"}}},
      {"mark":{"type":"line","strokeWidth":0.6},"encoding":{"y":{"field":"hi","type":"quantitative","axis":{"values":[-2e-7,-1e-7,0,1e-7,2e-7],"title":"kA","labelExpr":"datum.value == 0 ? '0' : round(datum.value*1e7) + 'E-7'","titlePadding":0,"minExtent":19,"maxExtent":19,"gridColor":"#a8a8a8","gridWidth":1,"domainColor":"#777777"}},"color":{"datum":"C1T1A"}}},
      {"mark":{"type":"line","strokeWidth":0.6},"encoding":{"y":{"field":"lo","type":"quantitative","axis":{"values":[-2e-7,-1e-7,0,1e-7,2e-7],"title":"kA","labelExpr":"datum.value == 0 ? '0' : round(datum.value*1e7) + 'E-7'","titlePadding":0,"minExtent":19,"maxExtent":19,"gridColor":"#a8a8a8","gridWidth":1,"domainColor":"#777777"}},"color":{"datum":"C1T1A"}}}
     ]},
    {"width":592,"height":125,"data":{"name":"i4"},
     "encoding":{"x":{"field":"t","type":"quantitative","scale":{"domain":[0,6],"nice":false},"axis":{"values":[0,1,2,3,4,5,6],"grid":true,"labels":true,"labelPadding":6.5,"title":null,"gridColor":"#9c9c9c","gridWidth":1,"domainColor":"#444444"}}},
     "layer":[
      {"mark":{"type":"area"},"encoding":{
        "y":{"field":"hi","type":"quantitative","scale":{"domain":[-2e-7,2e-7],"nice":false},"axis":{"values":[-2e-7,-1e-7,0,1e-7,2e-7],"title":"kA","labelExpr":"datum.value == 0 ? '0' : round(datum.value*1e7) + 'E-7'","titlePadding":0,"minExtent":19,"maxExtent":19,"gridColor":"#a8a8a8","gridWidth":1,"domainColor":"#777777"}},
        "y2":{"field":"lo"},
        "color":{"datum":"C2T1C","scale":{"domain":["C2T1A","C2T1B","C2T1C"],"range":["#000000","#c00018","#0000ff"]},
          "legend":{"orient":"none","legendX":264,"legendY":-8.5,"title":null,"symbolType":"M-1,3.4H16","labelColor":{"expr":"slice(datum.value,-1)=='B'?'#ff2b2b':slice(datum.value,-1)=='C'?'#3333ff':'#222222'"}}}}},
      {"mark":{"type":"rule","strokeWidth":2.4},"encoding":{"y":{"field":"hi","type":"quantitative","axis":{"values":[-2e-7,-1e-7,0,1e-7,2e-7],"title":"kA","labelExpr":"datum.value == 0 ? '0' : round(datum.value*1e7) + 'E-7'","titlePadding":0,"minExtent":19,"maxExtent":19,"gridColor":"#a8a8a8","gridWidth":1,"domainColor":"#777777"}},"y2":{"field":"a"},"color":{"datum":"C2T1B"}}},
      {"mark":{"type":"rule","strokeWidth":2.4},"encoding":{"y":{"field":"lo","type":"quantitative","axis":{"values":[-2e-7,-1e-7,0,1e-7,2e-7],"title":"kA","labelExpr":"datum.value == 0 ? '0' : round(datum.value*1e7) + 'E-7'","titlePadding":0,"minExtent":19,"maxExtent":19,"gridColor":"#a8a8a8","gridWidth":1,"domainColor":"#777777"}},"y2":{"field":"b"},"color":{"datum":"C2T1B"}}},
      {"mark":{"type":"line","strokeWidth":0.6},"encoding":{"y":{"field":"hi","type":"quantitative","axis":{"values":[-2e-7,-1e-7,0,1e-7,2e-7],"title":"kA","labelExpr":"datum.value == 0 ? '0' : round(datum.value*1e7) + 'E-7'","titlePadding":0,"minExtent":19,"maxExtent":19,"gridColor":"#a8a8a8","gridWidth":1,"domainColor":"#777777"}},"color":{"datum":"C2T1A"}}},
      {"mark":{"type":"line","strokeWidth":0.6},"encoding":{"y":{"field":"lo","type":"quantitative","axis":{"values":[-2e-7,-1e-7,0,1e-7,2e-7],"title":"kA","labelExpr":"datum.value == 0 ? '0' : round(datum.value*1e7) + 'E-7'","titlePadding":0,"minExtent":19,"maxExtent":19,"gridColor":"#a8a8a8","gridWidth":1,"domainColor":"#777777"}},"color":{"datum":"C2T1A"}}}
     ]}
   ]}
 ]}
]
}
